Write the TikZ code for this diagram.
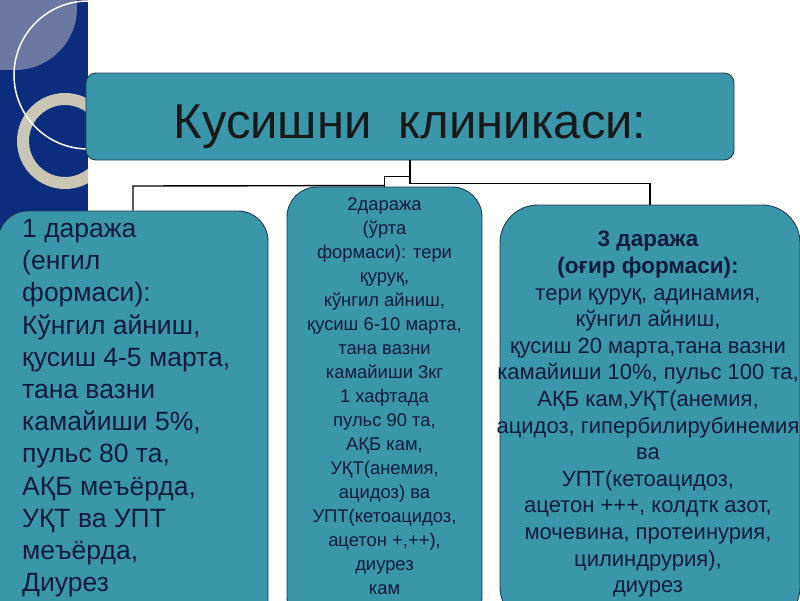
\documentclass[tikz,border=0pt]{standalone}
\usepackage{fontspec}
\setmainfont{Liberation Sans}
\usetikzlibrary{calc}
\definecolor{navy}{RGB}{12,44,126}
\definecolor{lightnavy}{RGB}{106,120,162}
\definecolor{ringc}{RGB}{201,199,180}
\definecolor{teal}{RGB}{58,151,170}
\definecolor{textc}{RGB}{14,27,58}
\definecolor{borderc}{RGB}{29,59,85}
\tikzset{
  box/.style={draw=borderc, line width=0.9pt, fill=teal, inner sep=0pt},
  conn/.style={draw=black, line width=1.4pt},
  txt/.style={inner sep=0pt, text=textc},
}
\begin{document}
\begin{tikzpicture}[x=1pt,y=-1pt]
\useasboundingbox (0,0) rectangle (800,600);
\begin{scope}
\clip (0,0) rectangle (800,600);
\fill[white] (0,0) rectangle (800,600);
\fill[navy] (0,0) rectangle (88,600);
\begin{scope}
\clip (0,0) rectangle (88,600);
\fill[lightnavy] (0,0) rectangle (15,70);
\fill[lightnavy] (15,8) circle (62);
\draw[ringc, line width=12pt] (65,141) circle (42);
\draw[white, line width=1.5pt] (88,75) circle (74);
\end{scope}
% title
\node[box, rounded corners=10pt, minimum width=648pt, minimum height=87pt]
  (title) at (410,116.5) {};
\node[txt, text=black!90, anchor=base, font=\fontsize{49}{58}\selectfont] (tt) at (410,138) {Кусишни\ \ клиникаси:};
% boxes
\node[box, rounded corners=30pt, minimum width=270pt, minimum height=420pt] (b1) at (133,421) {};
\node[box, rounded corners=30pt, minimum width=195pt, minimum height=440pt] (b2) at (384.5,407) {};
\node[box, rounded corners=38pt, minimum width=300pt, minimum height=420pt] (b3) at (650,415) {};
% connectors
\coordinate (j) at ($(title.south)+(0,16)$);
\coordinate (h1) at (0,186);
\draw[conn] (title.south) -- (j) -| (b2.north);
\draw[conn] (j) -- ++(0,7) -| (b3.north);
\draw[conn] ($(b2.north)+(0,-1)$) -- (b1.north |- h1) -- (b1.north);
% texts
\node[txt, anchor=north west, align=left, font=\fontsize{26.5}{32.2}\selectfont] (t1) at (22,219)
 {1 даража\\(енгил\\формаси):\\Кўнгил айниш,\\қусиш 4-5 марта,\\тана вазни\\камайиши 5\%,\\пульс 80 та,\\АҚБ меъёрда,\\УҚТ ва УПТ\\меъёрда,\\Диурез};
\node[txt, anchor=north, align=center, font=\fontsize{18.4}{24}\selectfont] (t2) at (384.5,197)
 {2даража\\(ўрта\\формаси): тери\\қуруқ,\\кўнгил айниш,\\қусиш 6-10 марта,\\тана вазни\\камайиши 3кг\\1 хафтада\\пульс 90 та,\\АҚБ кам,\\УҚТ(анемия,\\ацидоз) ва\\УПТ(кетоацидоз,\\ацетон +,++),\\диурез\\кам};
\node[txt, anchor=north, align=center, font=\fontsize{22}{26.6}\selectfont] (t3) at (648,231)
 {{\fontsize{22.5}{26.6}\selectfont\bfseries 3 даража}\\{\fontsize{22.5}{26.6}\selectfont\bfseries (оғир формаси):}\\тери қуруқ, адинамия,\\кўнгил айниш,\\қусиш 20 марта,тана вазни\\камайиши 10\%, пульс 100 та,\\АҚБ кам,УҚТ(анемия,\\ацидоз, гипербилирубинемия\\ва\\УПТ(кетоацидоз,\\ацетон +++, колдтк азот,\\мочевина, протеинурия,\\цилиндрурия),\\диурез};
\end{scope}
\end{tikzpicture}
\end{document}
